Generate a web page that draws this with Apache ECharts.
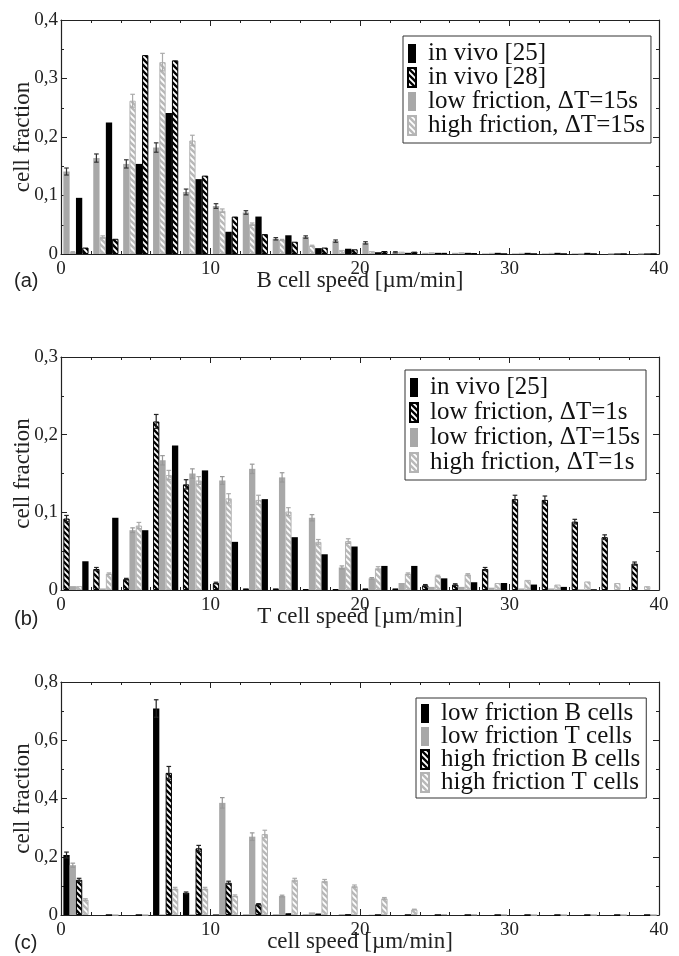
<!DOCTYPE html>
<html><head><meta charset="utf-8">
<script src="https://cdn.jsdelivr.net/npm/echarts@6/dist/echarts.min.js"></script>
<style>html,body{margin:0;padding:0;background:#fff;}#c{width:679px;height:956px;}</style>
</head><body><div id="c"></div>
<script>
// ---- bins: 2 µm wide, 0..40 ----
const bins = ['0-2','2-4','4-6','6-8','8-10','10-12','12-14','14-16','16-18','18-20','20-22','22-24','24-26','26-28','28-30','30-32','32-34','34-36','36-38','38-40'];
const xTicks = [0, 10, 20, 30, 40];
const yTicksA = [0, 0.1, 0.2, 0.3, 0.4];
const yTicksB = [0, 0.1, 0.2, 0.3];
const yTicksC = [0, 0.2, 0.4, 0.6, 0.8];

// ---- panel (a): B cell speed ----
const aLowF15     = [0.141,0.164,0.154,0.182,0.106,0.082,0.071,0.026,0.029,0.022,0.019,0.003,0.002,0.002,0.001,0.001,0.001,0.001,0,0];
const aLowF15Err  = [0.006,0.007,0.007,0.008,0.005,0.004,0.003,0.002,0.002,0.002,0.002,0.001,0,0,0,0,0,0,0,0];
const aHighF15    = [0.003,0.029,0.262,0.328,0.194,0.074,0.051,0.024,0.014,0.007,0.005,0.004,0.003,0.003,0.002,0.002,0.002,0.001,0.001,0.001];
const aHighF15Err = [0.001,0.002,0.011,0.015,0.009,0.003,0.002,0.001,0.001,0,0,0,0,0,0,0,0,0,0,0];
const aVivo25     = [0.096,0.225,0.154,0.241,0.128,0.038,0.064,0.032,0.010,0.009,0.003,0.002,0.002,0.002,0.002,0.002,0.002,0.002,0.001,0.001];
const aVivo28     = [0.011,0.026,0.340,0.331,0.134,0.064,0.034,0.021,0.011,0.008,0.005,0.004,0.002,0.001,0,0,0,0,0,0];

// ---- panel (b): T cell speed ----
const bLowF1      = [0.092,0.027,0.014,0.217,0.136,0.009,0.002,0.002,0.001,0.001,0.002,0.002,0.006,0.007,0.027,0.117,0.116,0.088,0.068,0.034];
const bLowF1Err   = [0.004,0.002,0.001,0.009,0.006,0.001,0,0,0,0,0,0,0.001,0.001,0.002,0.005,0.005,0.003,0.003,0.002];
const bLowF15     = [0.005,0.002,0.077,0.167,0.150,0.141,0.156,0.145,0.093,0.029,0.015,0.009,0.004,0.004,0.003,0.002,0.002,0.001,0,0];
const bLowF15Err  = [0,0,0.003,0.006,0.006,0.005,0.006,0.006,0.004,0.002,0.001,0,0,0,0,0,0,0,0,0];
const bHighF1     = [0.005,0.021,0.083,0.148,0.141,0.118,0.116,0.101,0.062,0.063,0.028,0.021,0.018,0.020,0.009,0.013,0.007,0.011,0.009,0.005];
const bHighF1Err  = [0,0.001,0.004,0.006,0.005,0.006,0.006,0.005,0.003,0.003,0.002,0.001,0.001,0.001,0,0,0,0,0,0];
const bVivo25     = [0.037,0.093,0.077,0.186,0.154,0.062,0.117,0.068,0.046,0.056,0.031,0.031,0.015,0.010,0.009,0.007,0.004,0.001,0,0];

// ---- panel (c): cell speed ----
const cLowB       = [0.206,0,0,0.709,0.076,0.002,0.001,0.001,0.001,0,0,0,0,0,0,0,0,0,0,0];
const cLowBErr    = [0.010,0,0,0.030,0.003,0,0,0,0,0,0,0,0,0,0,0,0,0,0,0];
const cLowT       = [0.171,0,0,0.002,0.002,0.385,0.269,0.065,0.009,0.003,0.001,0,0,0,0,0,0,0,0,0];
const cLowTErr    = [0.007,0,0,0,0,0.018,0.013,0.003,0,0,0,0,0,0,0,0,0,0,0,0];
const cHighB      = [0.121,0,0,0.488,0.229,0.111,0.037,0.006,0.005,0.001,0,0,0,0,0,0,0,0,0,0];
const cHighBErr   = [0.005,0,0,0.022,0.010,0.005,0.002,0,0,0,0,0,0,0,0,0,0,0,0,0];
const cHighT      = [0.053,0,0,0.091,0.091,0.066,0.278,0.121,0.117,0.099,0.057,0.019,0.003,0.002,0.001,0,0,0,0,0];
const cHighTErr   = [0.003,0,0,0.004,0.004,0.003,0.013,0.005,0.005,0.004,0.003,0.001,0,0,0,0,0,0,0,0];

// ---- styles ----
const SERIF = 'Liberation Serif';
const BW = 6.3;
function stripes(bg, fg, p, w) {
  const c = document.createElement('canvas'); c.width = p; c.height = p;
  const ctx = c.getContext('2d');
  ctx.fillStyle = bg; ctx.fillRect(0, 0, p, p);
  ctx.strokeStyle = fg; ctx.lineWidth = w;
  for (let k = -1; k <= 1; k++) { ctx.beginPath(); ctx.moveTo(-1, k*p - 1); ctx.lineTo(p + 1, k*p + p + 1); ctx.stroke(); }
  return c;
}
const ST = {
  black: { color: '#000' },
  gray: { color: '#a8a8a8' },
  blackHatch: { color: { image: stripes('#fff', '#000', 6, 2.3), repeat: 'repeat' }, borderColor: '#000', borderWidth: 1 },
  grayHatch: { color: { image: stripes('#fff', '#b8b8b8', 6, 2.5), repeat: 'repeat' }, borderColor: '#b4b4b4', borderWidth: 1 }
};

const grids = [
  { left: 61, top: 20, width: 598, height: 234, containLabel: false, outerBoundsMode: 'none' },
  { left: 61, top: 357, width: 598, height: 233, containLabel: false, outerBoundsMode: 'none' },
  { left: 61, top: 682, width: 598, height: 233, containLabel: false, outerBoundsMode: 'none' }
];
const xNames = ['B cell speed [µm/min]', 'T cell speed [µm/min]', 'cell speed [µm/min]'];
const yTickSets = [yTicksA, yTicksB, yTicksC];

const axisLine = { show: true, onZero: false, lineStyle: { color: '#222', width: 1.2 } };
const fmt = v => v === 0 ? '0' : v.toFixed(1).replace('.', ',');

const xAxis = [], yAxis = [];
grids.forEach((g, gi) => {
  const common = { type: 'value', gridIndex: gi, min: xTicks[0], max: xTicks[xTicks.length-1], interval: xTicks[1]-xTicks[0],
    axisLine, splitLine: { show: false },
    axisTick: { show: true, inside: true, length: 6, lineStyle: { color: '#222' } },
    minorTick: { show: true, splitNumber: 5, length: 3, lineStyle: { color: '#222' } } };
  xAxis.push(Object.assign({}, common, { position: 'bottom',
    axisLabel: { show: true, margin: 6, fontFamily: SERIF, fontSize: 19, color: '#222' },
    name: xNames[gi], nameLocation: 'middle', nameGap: 15, nameMoveOverlap: false,
    nameTextStyle: { fontFamily: SERIF, fontSize: 23, color: '#222' } }));
  xAxis.push(Object.assign({}, common, { position: 'top', axisLabel: { show: false } }));
  xAxis.push({ type: 'category', gridIndex: gi, data: bins, show: false, boundaryGap: true });
  const yt = yTickSets[gi];
  const ycommon = { type: 'value', gridIndex: gi, min: yt[0], max: yt[yt.length-1], interval: yt[1]-yt[0],
    axisLine, splitLine: { show: false },
    axisTick: { show: true, inside: true, length: 6, lineStyle: { color: '#222' } },
    minorTick: { show: true, splitNumber: 2, length: 3, lineStyle: { color: '#222' } } };
  yAxis.push(Object.assign({}, ycommon, { position: 'left',
    axisLabel: { show: true, margin: 3, fontFamily: SERIF, fontSize: 19, color: '#222', formatter: fmt },
    name: 'cell fraction', nameLocation: 'middle', nameGap: 27, nameMoveOverlap: false,
    nameTextStyle: { fontFamily: SERIF, fontSize: 23, color: '#222' } }));
  yAxis.push(Object.assign({}, ycommon, { position: 'right', axisLabel: { show: false } }));
});

const series = [];
function addPanel(gi, list) {
  list.forEach((s, slot) => {
    series.push({ type: 'bar', name: s.name, xAxisIndex: gi*3 + 2, yAxisIndex: gi*2,
      data: s.data, barWidth: BW, barGap: '0%', itemStyle: ST[s.style], silent: true, animation: false });
  });
  list.forEach((s, slot) => {
    if (!s.err) return;
    series.push({ type: 'custom', xAxisIndex: gi*3 + 2, yAxisIndex: gi*2, z: 5, silent: true, animation: false,
      encode: { x: 0, y: 1 },
      data: s.data.map((v, i) => [i, v, s.err[i]]),
      renderItem: (params, api) => {
        const i = api.value(0), v = api.value(1), e = api.value(2);
        if (!(e > 0)) return null;
        const top = api.coord([i, v + e]), bot = api.coord([i, Math.max(0, v - e)]);
        const x = top[0] + (slot - 1.5) * BW;
        const st = { stroke: s.errColor, lineWidth: 1.2 };
        return { type: 'group', children: [
          { type: 'line', shape: { x1: x, y1: top[1], x2: x, y2: bot[1] }, style: st },
          { type: 'line', shape: { x1: x - 2.3, y1: top[1], x2: x + 2.3, y2: top[1] }, style: st },
          { type: 'line', shape: { x1: x - 2.3, y1: bot[1], x2: x + 2.3, y2: bot[1] }, style: st }
        ] };
      } });
  });
}
addPanel(0, [
  { name: 'low friction, ΔT=15s', data: aLowF15, style: 'gray', err: aLowF15Err, errColor: '#333' },
  { name: 'high friction, ΔT=15s', data: aHighF15, style: 'grayHatch', err: aHighF15Err, errColor: '#aaa' },
  { name: 'in vivo [25]', data: aVivo25, style: 'black' },
  { name: 'in vivo [28]', data: aVivo28, style: 'blackHatch' }
]);
addPanel(1, [
  { name: 'low friction, ΔT=1s', data: bLowF1, style: 'blackHatch', err: bLowF1Err, errColor: '#222' },
  { name: 'low friction, ΔT=15s', data: bLowF15, style: 'gray', err: bLowF15Err, errColor: '#999' },
  { name: 'high friction, ΔT=1s', data: bHighF1, style: 'grayHatch', err: bHighF1Err, errColor: '#aaa' },
  { name: 'in vivo [25]', data: bVivo25, style: 'black' }
]);
addPanel(2, [
  { name: 'low friction B cells', data: cLowB, style: 'black', err: cLowBErr, errColor: '#222' },
  { name: 'low friction T cells', data: cLowT, style: 'gray', err: cLowTErr, errColor: '#999' },
  { name: 'high friction B cells', data: cHighB, style: 'blackHatch', err: cHighBErr, errColor: '#222' },
  { name: 'high friction T cells', data: cHighT, style: 'grayHatch', err: cHighTErr, errColor: '#aaa' }
]);

const ICON = 'path://M0,0L8,0L8,19L0,19Z M15,19';
const legendBase = { orient: 'vertical', itemWidth: 15, itemHeight: 19, icon: ICON, selectedMode: false,
  borderColor: '#333', borderWidth: 1, backgroundColor: '#fff',
  textStyle: { fontFamily: SERIF, fontSize: 25, color: '#111' } };
const legend = [
  Object.assign({}, legendBase, { left: 403, top: 36, itemGap: -1, padding: [5, 6, 5, 4],
    data: ['in vivo [25]', 'in vivo [28]', 'low friction, ΔT=15s', 'high friction, ΔT=15s'] }),
  Object.assign({}, legendBase, { left: 405, top: 370, itemGap: 0, padding: [5, 6, 5, 4],
    data: ['in vivo [25]', 'low friction, ΔT=1s', 'low friction, ΔT=15s', 'high friction, ΔT=1s'] }),
  Object.assign({}, legendBase, { left: 416, top: 698, itemGap: -2, padding: [3, 6, 3, 4],
    data: ['low friction B cells', 'low friction T cells', 'high friction B cells', 'high friction T cells'] })
];

const labelStyle = { fontFamily: 'Liberation Sans', fontSize: 20, fontWeight: 'normal', color: '#222' };
const title = [
  { text: '(a)', left: 14, top: 271, padding: 0, textStyle: labelStyle },
  { text: '(b)', left: 14, top: 609, padding: 0, textStyle: labelStyle },
  { text: '(c)', left: 14, top: 933, padding: 0, textStyle: labelStyle }
];

const chart = echarts.init(document.getElementById('c'), null, { renderer: 'canvas' });
chart.setOption({ animation: false, backgroundColor: '#fff', title, grid: grids, xAxis, yAxis, legend, series });
</script></body></html>
